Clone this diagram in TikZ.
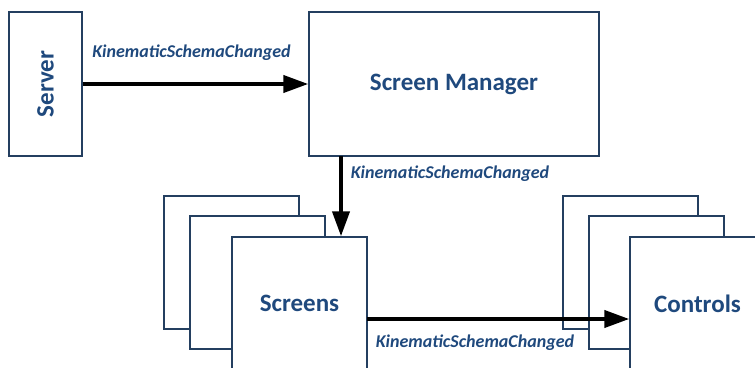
\documentclass[tikz,border=0pt]{standalone}
\usepackage{fontspec}
\setmainfont{Carlito}
\usetikzlibrary{arrows.meta, positioning}
\definecolor{txtblue}{HTML}{1F497D}
\definecolor{boxline}{HTML}{243F60}

\begin{document}
\begin{tikzpicture}[x=1pt, y=-1pt,
    box/.style={draw=boxline, line width=1.4pt, fill=white, inner sep=0pt},
    title/.style={text=txtblue, font=\fontsize{25}{29}\selectfont\bfseries},
    msg/.style={text=txtblue, font=\fontsize{18}{21}\selectfont\bfseries\itshape},
    flow/.style={line width=4pt, -{Triangle[length=25pt, width=17pt]}}]
    \useasboundingbox (0,0) rectangle (755,367);
    \clip (0,0) rectangle (755,367);

    % Server and screen manager
    \node[box, minimum width=73pt, minimum height=144pt] (server) at (45.5,84) {};
    \node[title, rotate=90] (servertext) at (server.center) {Server};
    \node[box, title, minimum width=290pt, minimum height=144pt] (manager) at (454,84) {Screen Manager};

    % Stacks of screens and controls
    \foreach \i/\dx/\dy in {1/0/0, 2/26/20} {
        \node[box, minimum width=135pt, minimum height=133pt] (scr\i) at (231.5+\dx,262.5+\dy) {};
        \node[box, minimum width=135pt, minimum height=133pt] (ctl\i) at (630.5+\dx,262.5+\dy) {};
    }
    \node[box, title, minimum width=135pt, minimum height=133pt] (screens) at (299.5,303.5) {Screens};
    \node[box, title, minimum width=135pt, minimum height=133pt] (controls) at (697.5,303.5) {Controls};

    % Events
    \coordinate (drop) at (341,156);
    \coordinate (send) at (367,319);
    \draw[flow] (server) -- (manager);
    \draw[flow] (drop) -- (drop |- screens.north);
    \draw[flow] (send) -- (send -| controls.west);

    \node[msg] (msg1) at (191.5,53) {KinematicSchemaChanged};
    \node[msg] (msg2) at (450,174) {KinematicSchemaChanged};
    \node[msg] (msg3) at (475,343) {KinematicSchemaChanged};
\end{tikzpicture}
\end{document}
